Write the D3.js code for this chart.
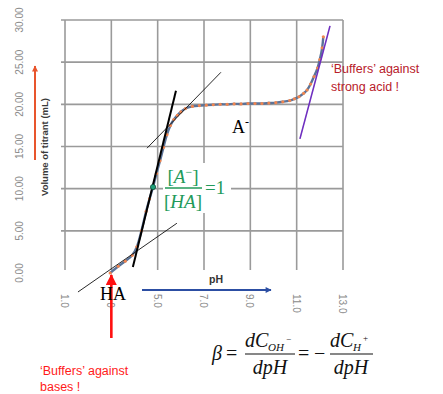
<!DOCTYPE html>
<html><head><meta charset="utf-8">
<script src="https://cdn.jsdelivr.net/npm/d3@7"></script>
<style>html,body{margin:0;padding:0;background:#fff;}svg{display:block;}</style>
</head><body>
<svg id="chart" width="443" height="394"></svg>
<script>
// ---- data ----
const pH     = [2.95, 3.3, 3.6, 3.9, 4.1, 4.3, 4.5, 4.65, 4.8, 4.95, 5.1, 5.25, 5.4, 5.55, 5.7, 5.85, 6.0, 6.2, 6.5, 6.8, 7.1, 7.4, 7.7, 8.0, 8.3, 8.6, 8.9, 9.2, 9.5, 9.8, 10.1, 10.4, 10.7, 10.9, 11.1, 11.3, 11.45, 11.6, 11.75, 11.9, 12.0, 12.1, 12.15];
const volume = [0.0, 0.8, 1.4, 2.1, 3.1, 5.0, 7.3, 8.8, 10.2, 11.8, 13.3, 14.9, 16.4, 17.5, 18.2, 18.7, 19.1, 19.5, 19.75, 19.85, 19.9, 19.95, 20.0, 20.0, 20.05, 20.05, 20.1, 20.1, 20.1, 20.15, 20.2, 20.3, 20.45, 20.65, 20.9, 21.3, 21.7, 22.4, 23.3, 24.3, 25.3, 26.7, 28.0];
const xTicks = [1, 3, 5, 7, 9, 11, 13];
const xTickLabels = ["1.0", "3.0", "5.0", "7.0", "9.0", "11.0", "13.0"];
const yTicks = [0, 5, 10, 15, 20, 25, 30];
const yTickLabels = ["0.00", "5.00", "10.00", "15.00", "20.00", "25.00", "30.00"];
// annotation tangent lines, in (pH, volume)
const tangentSteep = [[3.93, 0.7], [5.79, 21.6]];
const tangentLow   = [[1.56, -2.25], [5.83, 5.9]];
const tangentHigh  = [[4.54, 14.8], [7.73, 23.8]];
const tangentBase  = [[11.14, 15.9], [12.44, 29.3]];
const halfPoint    = [4.8, 10.2];

const svg = d3.select("#chart");
const x = d3.scaleLinear().domain([1, 13]).range([65, 343]);
const y = d3.scaleLinear().domain([0, 30]).range([273, 20]);

// grid
svg.append("g").selectAll("line").data(yTicks.filter(d => d > 0)).join("line")
  .attr("x1", x(1) - 4).attr("x2", x(13)).attr("y1", d => y(d)).attr("y2", d => y(d))
  .attr("stroke", "#9a9a9a").attr("stroke-width", 1.6);
svg.append("g").selectAll("line").data(xTicks).join("line")
  .attr("x1", d => x(d)).attr("x2", d => x(d)).attr("y1", y(30)).attr("y2", 270)
  .attr("stroke", "#9a9a9a").attr("stroke-width", 1.6);

// y tick labels
svg.append("g").selectAll("text").data(yTicks).join("text")
  .attr("transform", (d) => `translate(23,${y(d)}) rotate(-90)`)
  .attr("text-anchor", "middle")
  .attr("font-family", "Liberation Sans, Arial, sans-serif").attr("font-size", 10)
  .attr("fill", "#8a8a8a").text((d, i) => yTickLabels[i]);

// x tick labels
svg.append("g").selectAll("text").data(xTicks).join("text")
  .attr("transform", (d) => `translate(${x(d) - 4},294) rotate(90)`)
  .attr("text-anchor", "start")
  .attr("font-family", "Liberation Sans, Arial, sans-serif").attr("font-size", 10)
  .attr("fill", "#8a8a8a").text((d, i) => xTickLabels[i]);

// y title
svg.append("text").attr("transform", "translate(48,147) rotate(-90)")
  .attr("text-anchor", "middle").attr("font-family", "Liberation Sans, Arial, sans-serif")
  .attr("font-size", 9.5).attr("font-weight", "bold").attr("fill", "#3a3a3a")
  .text("Volume of titrant (mL)");

// arrow markers
const defs = svg.append("defs");
function marker(id, color, w, h) {
  defs.append("marker").attr("id", id).attr("viewBox", "0 0 10 10").attr("refX", 9).attr("refY", 5)
    .attr("markerWidth", w).attr("markerHeight", h).attr("markerUnits", "userSpaceOnUse").attr("orient", "auto")
    .append("path").attr("d", "M0,0 L10,5 L0,10 Z").attr("fill", color);
}
marker("mOrange", "#e8552d", 8, 6);
marker("mBlue", "#2c4ea3", 8, 6);
marker("mRed", "#ff1010", 12, 11);

// orange y arrow
svg.append("line").attr("x1", 35).attr("y1", 160).attr("x2", 35).attr("y2", 66)
  .attr("stroke", "#e8552d").attr("stroke-width", 2).attr("marker-end", "url(#mOrange)");

// pH box + arrow
svg.append("rect").attr("x", 135).attr("y", 271).attr("width", 145).attr("height", 22).attr("fill", "#fff");
svg.append("line").attr("x1", 142).attr("y1", 290).attr("x2", 271).attr("y2", 290)
  .attr("stroke", "#2c4ea3").attr("stroke-width", 2).attr("marker-end", "url(#mBlue)");
svg.append("text").attr("x", 216).attr("y", 283).attr("text-anchor", "middle")
  .attr("font-family", "Liberation Sans, Arial, sans-serif").attr("font-size", 10.5).attr("font-weight", "bold")
  .attr("fill", "#333").text("pH");

// curve
const pts = pH.map((p, i) => [p, volume[i]]);
svg.append("path").datum(pts).attr("d", d3.line().x(d => x(d[0])).y(d => y(d[1])).curve(d3.curveCatmullRom))
  .attr("fill", "none").attr("stroke", "#5b7398").attr("stroke-width", 2.4);
svg.append("g").selectAll("circle").data(pts).join("circle")
  .attr("cx", d => x(d[0])).attr("cy", d => y(d[1])).attr("r", 1.6).attr("fill", "#f0854f");

// tangents
const lin = d3.line().x(d => x(d[0])).y(d => y(d[1]));
svg.append("path").attr("d", lin(tangentLow)).attr("stroke", "#111").attr("stroke-width", 0.9).attr("fill", "none");
svg.append("path").attr("d", lin(tangentHigh)).attr("stroke", "#111").attr("stroke-width", 0.9).attr("fill", "none");
svg.append("path").attr("d", lin(tangentSteep)).attr("stroke", "#000").attr("stroke-width", 2).attr("fill", "none");
svg.append("path").attr("d", lin(tangentBase)).attr("stroke", "#6f2fc0").attr("stroke-width", 1.6).attr("fill", "none");

// half-equivalence point
svg.append("circle").attr("cx", x(halfPoint[0])).attr("cy", y(halfPoint[1])).attr("r", 2.6)
  .attr("fill", "#1fa07a").attr("stroke", "#0b4a36").attr("stroke-width", 0.8);

// red arrow HA
svg.append("line").attr("x1", x(3)).attr("y1", 338).attr("x2", x(3)).attr("y2", 275)
  .attr("stroke", "#ff1010").attr("stroke-width", 2.6).attr("marker-end", "url(#mRed)");
svg.append("rect").attr("x", 99).attr("y", 285).attr("width", 30).attr("height", 17).attr("fill", "#fff");
svg.append("line").attr("x1", x(3)).attr("y1", 285).attr("x2", x(3)).attr("y2", 302)
  .attr("stroke", "#ff1010").attr("stroke-width", 2.6);
svg.append("text").attr("x", 100).attr("y", 300)
  .attr("font-family", "Liberation Serif, Times New Roman, serif").attr("font-size", 18).attr("fill", "#000").text("HA");

// A-
const aTxt = svg.append("text").attr("x", 232).attr("y", 133)
  .attr("font-family", "Liberation Serif, Times New Roman, serif").attr("font-size", 18).attr("fill", "#000");
aTxt.append("tspan").text("A");
aTxt.append("tspan").attr("dy", -7).attr("font-size", 12).text("-");

// green ratio formula
const green = "#229a5a";
const serif = "Liberation Serif, Times New Roman, serif";
svg.append("rect").attr("x", 163).attr("y", 163).attr("width", 68).attr("height", 50).attr("fill", "#fff");
const num = svg.append("text").attr("x", 183).attr("y", 183).attr("text-anchor", "middle")
  .attr("font-family", serif).attr("font-size", 19).attr("fill", green);
num.append("tspan").text("[");
num.append("tspan").attr("font-style", "italic").text("A");
num.append("tspan").attr("dy", -7).attr("font-size", 12).text("−");
num.append("tspan").attr("dy", 7).text("]");
svg.append("line").attr("x1", 165).attr("x2", 202).attr("y1", 188).attr("y2", 188).attr("stroke", green).attr("stroke-width", 1.3);
const den = svg.append("text").attr("x", 183).attr("y", 208).attr("text-anchor", "middle")
  .attr("font-family", serif).attr("font-size", 19).attr("fill", green);
den.append("tspan").text("[");
den.append("tspan").attr("font-style", "italic").text("HA");
den.append("tspan").text("]");
svg.append("text").attr("x", 205).attr("y", 194).attr("font-family", serif).attr("font-size", 19)
  .attr("fill", green).text("=1");

// text annotations
const sans = "Liberation Sans, Arial, sans-serif";
svg.append("text").attr("x", 331).attr("y", 73).attr("font-family", sans).attr("font-size", 12.5).attr("fill", "#b8202a").text("\u2018Buffers\u2019 against");
svg.append("text").attr("x", 331).attr("y", 91).attr("font-family", sans).attr("font-size", 12.5).attr("fill", "#b8202a").text("strong acid !");
svg.append("text").attr("x", 40).attr("y", 375).attr("font-family", sans).attr("font-size", 12.5).attr("fill", "#ff1a1a").text("\u2018Buffers\u2019 against");
svg.append("text").attr("x", 40).attr("y", 391).attr("font-family", sans).attr("font-size", 12.5).attr("fill", "#ff1a1a").text("bases !");

// beta formula
const fs = 20;
function t(xp, yp, size, italic, str, anchor) {
  return svg.append("text").attr("x", xp).attr("y", yp).attr("font-family", serif).attr("font-size", size)
    .attr("font-style", italic ? "italic" : "normal").attr("text-anchor", anchor || "start").attr("fill", "#111").text(str);
}
t(212, 360, fs, true, "\u03B2");
t(226, 360, fs, false, "=");
t(245, 347, fs, true, "dC");
t(268, 351, 11, true, "OH");
t(286, 342, 9, false, "\u2212");
svg.append("line").attr("x1", 245).attr("x2", 295).attr("y1", 354).attr("y2", 354).attr("stroke", "#111").attr("stroke-width", 1.1);
t(270, 374, fs, true, "dpH", "middle");
t(298, 360, fs, false, "=");
t(314, 360, fs, false, "\u2212");
t(330, 347, fs, true, "dC");
t(353, 351, 11, true, "H");
t(363, 341, 9, false, "+");
svg.append("line").attr("x1", 330).attr("x2", 373).attr("y1", 354).attr("y2", 354).attr("stroke", "#111").attr("stroke-width", 1.1);
t(351, 374, fs, true, "dpH", "middle");
</script>
</body></html>
